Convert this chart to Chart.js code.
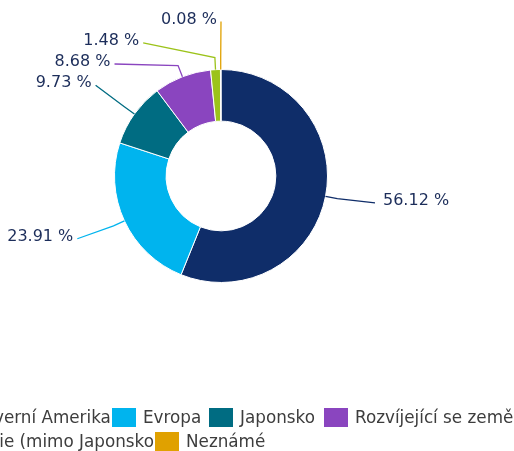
<!DOCTYPE html>
<html>
<head>
<meta charset="utf-8">
<script src="https://cdn.jsdelivr.net/npm/chart.js@4"></script>
<style>
  html, body { margin: 0; padding: 0; background: #fff; }
  #wrap { position: relative; width: 514px; height: 451px; overflow: hidden; }
  #legend { position: absolute; left: 0; top: 0; width: 514px; height: 451px; pointer-events: none; }
  .item { position: absolute; display: flex; align-items: center; white-space: nowrap;
          font: 16.8px "DejaVu Sans", Verdana, sans-serif; color: #3d3d3d; }
  .item .box { width: 24px; height: 19px; margin-right: 7px; }
</style>
</head>
<body>
<div id="wrap">
  <canvas id="pieChart" width="514" height="451"></canvas>
  <div id="legend"></div>
</div>
<script>
  // regions and their share of the total (%)
  var regions = ['Severní Amerika', 'Evropa', 'Japonsko', 'Rozvíjející se země', 'Asie (mimo Japonsko)', 'Neznámé'];
  var shares = [56.12, 23.91, 9.73, 8.68, 1.48, 0.08];

  var colors = ['#0f2d69', '#00b4ee', '#006c82', '#8a45bf', '#9cc31a', '#e0a100'];

  // legend boxes, as they sit in the original (left, top)
  var legendSlots = [[-58, 407], [112, 407], [209, 407], [324, 407], [-52, 431], [155, 431]];

  // labels outside the ring, joined to their slice by a line
  var outsideLabels = {
    id: 'outsideLabels',
    afterDatasetsDraw(chart) {
      var ctx = chart.ctx;
      var arcs = chart.getDatasetMeta(0).data;
      var cx = arcs[0].x, cy = arcs[0].y, R = arcs[0].outerRadius;
      var dist = 156, gap = 21.2, top = 19.6;

      var items = arcs.map(function (arc, i) {
        var mid = (arc.startAngle + arc.endAngle) / 2;
        return {
          i: i, mid: mid,
          left: Math.cos(mid) < 0,
          y: cy + dist * Math.sin(mid) - 5
        };
      });

      [true, false].forEach(function (side) {
        var list = items.filter(function (it) { return it.left === side; });
        list.sort(function (a, b) { return a.y - b.y; });
        var prev = -Infinity;
        list.forEach(function (it) {
          it.y = Math.max(it.y, prev + gap, top);
          prev = it.y;
        });
      });

      ctx.save();
      ctx.font = '16px "DejaVu Sans", Verdana, sans-serif';
      ctx.textBaseline = 'middle';
      items.forEach(function (it) {
        var c = Math.cos(it.mid), s = Math.sin(it.mid);
        var dy = Math.max(-dist, Math.min(dist, it.y - cy));
        var dx = Math.sqrt(dist * dist - dy * dy);
        var ex = it.left ? cx - dx : cx + dx;
        var ey = it.y + 2;

        ctx.beginPath();
        ctx.moveTo(cx + R * c, cy + R * s);
        ctx.lineTo(cx + (R + 12) * c, cy + (R + 12) * s);
        ctx.lineTo(ex, ey);
        ctx.strokeStyle = colors[it.i];
        ctx.lineWidth = 1.3;
        ctx.stroke();

        ctx.fillStyle = '#1c2d5a';
        ctx.textAlign = it.left ? 'right' : 'left';
        ctx.fillText(shares[it.i].toFixed(2) + ' %', it.left ? ex - 4 : ex + 8, it.y);
      });
      ctx.restore();
    }
  };

  document.addEventListener('DOMContentLoaded', function () {
    var ctx = document.getElementById('pieChart').getContext('2d');

    new Chart(ctx, {
      type: 'doughnut',
      data: {
        labels: regions,
        datasets: [{
          data: shares,
          backgroundColor: colors,
          borderColor: '#ffffff',
          borderWidth: 1
        }]
      },
      options: {
        responsive: false,
        animation: false,
        cutout: '51.5%',
        layout: { padding: { left: 114, right: 186, top: 69, bottom: 168 } },
        plugins: {
          legend: { display: false },
          tooltip: { enabled: false }
        }
      },
      plugins: [outsideLabels]
    });

    // legend in html; each box sits on top of the text before it
    var legend = document.getElementById('legend');
    regions.forEach(function (name, i) {
      var item = document.createElement('div');
      item.className = 'item';
      item.style.left = legendSlots[i][0] + 'px';
      item.style.top = legendSlots[i][1] + 'px';
      item.style.zIndex = i;
      item.innerHTML = '<span class="box" style="background:' + colors[i] + '"></span><span>' + name + '</span>';
      legend.appendChild(item);
    });
  });
</script>
</body>
</html>
